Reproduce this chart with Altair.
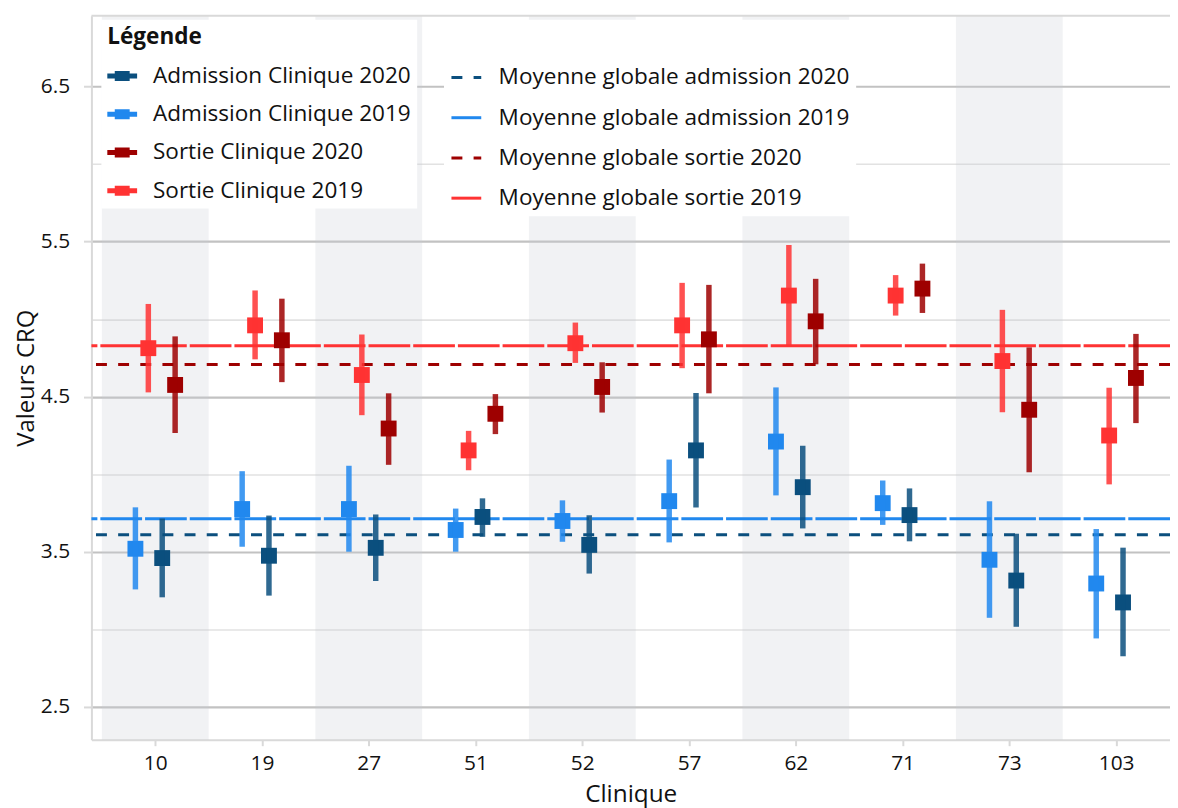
import altair as alt
import pandas as pd

# ---------------- data ----------------
clinics = ["10", "19", "27", "51", "52", "57", "62", "71", "73", "103"]

series_names = ["Admission Clinique 2020", "Admission Clinique 2019",
                "Sortie Clinique 2020", "Sortie Clinique 2019"]

adm2020 = [3.460, 3.475, 3.526, 3.725, 3.545, 4.154, 3.917, 3.737, 3.315, 3.174]
adm2020_lo = [3.207, 3.218, 3.312, 3.597, 3.360, 3.786, 3.651, 3.568, 3.017, 2.827]
adm2020_hi = [3.715, 3.734, 3.741, 3.845, 3.736, 4.524, 4.184, 3.909, 3.617, 3.527]

adm2019 = [3.520, 3.776, 3.776, 3.641, 3.699, 3.827, 4.211, 3.814, 3.449, 3.296]
adm2019_lo = [3.258, 3.533, 3.501, 3.501, 3.565, 3.561, 3.864, 3.674, 3.075, 2.942]
adm2019_hi = [3.787, 4.020, 4.055, 3.779, 3.832, 4.095, 4.560, 3.960, 3.826, 3.647]

sor2020 = [4.576, 4.864, 4.295, 4.390, 4.563, 4.870, 4.986, 5.197, 4.416, 4.621]
sor2020_lo = [4.266, 4.594, 4.061, 4.259, 4.398, 4.522, 4.709, 5.040, 4.013, 4.330]
sor2020_hi = [4.889, 5.132, 4.522, 4.517, 4.722, 5.221, 5.260, 5.358, 4.818, 4.905]

sor2019 = [4.813, 4.960, 4.640, 4.154, 4.845, 4.960, 5.152, 5.152, 4.730, 4.250]
sor2019_lo = [4.528, 4.741, 4.381, 4.026, 4.718, 4.684, 4.831, 5.023, 4.400, 3.935]
sor2019_hi = [5.098, 5.185, 4.901, 4.280, 4.978, 5.234, 5.478, 5.284, 5.060, 4.558]

mean_names = ["Moyenne globale admission 2020", "Moyenne globale admission 2019",
              "Moyenne globale sortie 2020", "Moyenne globale sortie 2019"]
mean_values = [3.611, 3.713, 4.707, 4.829]

y_tick_values = [2.5, 3.0, 3.5, 4.0, 4.5, 5.0, 5.5, 6.0, 6.5]

# ---------------- styles ----------------
colors = ["#0b4f7e", "#2188ee", "#9e0000", "#ff3333"]
dashes = [[11, 11.3], [42, 3], [11, 11.3], [42, 3]]
FONT = "Open Sans"
W, H = 1086, 729

rows = []
for s, (m, lo, hi) in zip(series_names, [(adm2020, adm2020_lo, adm2020_hi),
                                         (adm2019, adm2019_lo, adm2019_hi),
                                         (sor2020, sor2020_lo, sor2020_hi),
                                         (sor2019, sor2019_lo, sor2019_hi)]):
    for i, c in enumerate(clinics):
        rows.append({"clinique": c, "idx": i, "series": s,
                     "mean": m[i], "lo": lo[i], "hi": hi[i]})
df = pd.DataFrame(rows)
df_means = pd.DataFrame({"name": mean_names, "value": mean_values})
df_clin = pd.DataFrame({"clinique": clinics, "idx": list(range(len(clinics)))})

offset_expr = ("datum.idx + (datum.series == 'Admission Clinique 2019' ? -0.186 : "
               "datum.series == 'Sortie Clinique 2019' ? -0.065 : "
               "datum.series == 'Admission Clinique 2020' ? 0.065 : 0.186)")

x_scale = alt.Scale(domain=[-0.598, 9.505], nice=False, zero=False)
y_scale = alt.Scale(domain=[2.289, 6.956], nice=False, zero=False)

label_arr = "[" + ",".join("'%s'" % c for c in clinics) + "]"
x_axis = alt.Axis(values=list(range(len(clinics))), labelExpr=label_arr + "[datum.value]",
                  title="Clinique", grid=False, tickSize=6, labelPadding=7,
                  titlePadding=9, labelFontSize=21, titleFontSize=24.5)
y_axis = alt.Axis(values=y_tick_values,
                  labelExpr="datum.value % 1 === 0 ? '' : format(datum.value, '.1f')",
                  title="Valeurs CRQ", tickSize=8, labelPadding=14, titlePadding=2,
                  labelFontSize=21, titleFontSize=24,
                  gridColor={"condition": {"test": "datum.value % 1 === 0", "value": "#e2e2e2"},
                             "value": "#c2c2c2"},
                  gridWidth={"condition": {"test": "datum.value % 1 === 0", "value": 1.6},
                             "value": 2.2},
                  tickOpacity={"condition": {"test": "datum.value % 1 === 0", "value": 0},
                               "value": 1})

X = lambda f: alt.X(f, type="quantitative", scale=x_scale, axis=x_axis)
Y = lambda f: alt.Y(f, type="quantitative", scale=y_scale, axis=y_axis)

sym_path = ("M-1,-0.17L-0.5,-0.17L-0.5,-0.34L0.5,-0.34L0.5,-0.17L1,-0.17"
            "L1,0.17L0.5,0.17L0.5,0.34L-0.5,0.34L-0.5,0.17L-1,0.17Z")

common_leg = dict(orient="none", legendY=4, fillColor="white", padding=6,
                  symbolSize=900, labelFontSize=22.7, titleFontSize=22.7,
                  titleFontWeight="bold", rowPadding=11.5, labelOffset=16,
                  titlePadding=13, labelColor="#111111", labelLimit=0)
legend1 = alt.Legend(title="Légende", legendX=10, symbolType=sym_path,
                     symbolStrokeWidth=0, titleColor="#111111", **common_leg)
legend2 = alt.Legend(title="Légende", legendX=355, symbolType="stroke",
                     symbolStrokeWidth=3, titleColor="white", **common_leg)

bands = alt.Chart(df_clin).transform_filter("datum.idx % 2 == 0").transform_calculate(
    x0="datum.idx - 0.5", x1="datum.idx + 0.5"
).mark_rect(fill="#c8cdd5", opacity=0.25).encode(
    x=X("x0"), x2="x1:Q", y=alt.value(0), y2=alt.value(H)
)

top_border = alt.Chart(alt.Data(values=[{}])).mark_rule(
    color="#d9d9d9", strokeWidth=2
).encode(y=alt.value(0))

mean_lines = alt.Chart(df_means).mark_rule(strokeWidth=3).encode(
    y=Y("value"),
    stroke=alt.Stroke("name:N", scale=alt.Scale(domain=mean_names, range=colors),
                      legend=legend2),
    strokeDash=alt.StrokeDash("name:N", scale=alt.Scale(domain=mean_names, range=dashes),
                              legend=legend2),
)

base = alt.Chart(df).transform_calculate(xpos=offset_expr)
color_enc = alt.Color("series:N", scale=alt.Scale(domain=series_names, range=colors),
                      legend=legend1)

pts = base.mark_square(size=256, filled=True, opacity=1).encode(
    x=X("xpos"), y=Y("mean"), color=color_enc,
)

err = base.mark_rule(strokeWidth=5.5, opacity=0.85).encode(
    x=X("xpos"), y=Y("lo"), y2="hi:Q", color=color_enc,
)

chart = alt.layer(bands, top_border, mean_lines, pts, err).properties(
    width=W, height=H,
    autosize=alt.AutoSizeParams(type="none"),
    padding={"left": 84, "top": 5, "right": 0, "bottom": 70},
).configure(font=FONT).configure_view(stroke="transparent").configure_axis(
    domainColor="#d9d9d9", domainWidth=2, tickColor="#d9d9d9", tickWidth=2,
    labelColor="#111111", titleColor="#111111", titleFontWeight="normal",
    labelFont=FONT, titleFont=FONT,
).configure_legend(labelFont=FONT, titleFont=FONT)

chart.save("out.html", embed_options={"renderer": "svg", "actions": False})
